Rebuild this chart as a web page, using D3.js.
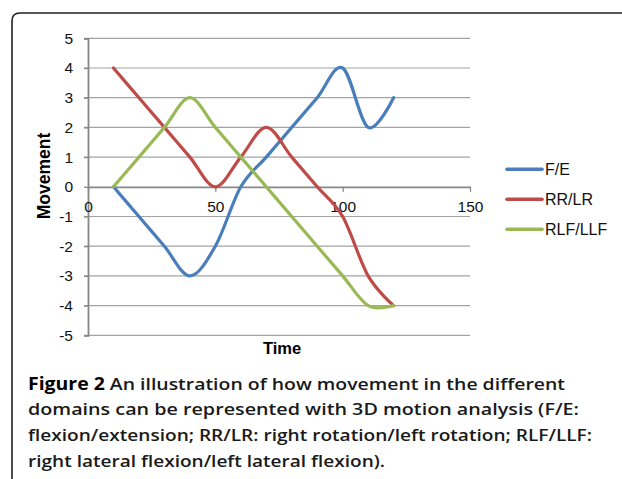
<!DOCTYPE html>
<html>
<head>
<meta charset="utf-8">
<script src="https://cdn.jsdelivr.net/npm/d3@7"></script>
<style>
  body { margin: 0; background: #fff; }
  svg { display: block; }
</style>
</head>
<body>
<svg id="chart" width="622" height="479"></svg>
<script>
// data
const times = [10, 20, 30, 40, 50, 60, 70, 80, 90, 100, 110, 120]
const fe = [0, -1, -2, -3, -2, 0, 1, 2, 3, 4, 2, 3]
const rrlr = [4, 3, 2, 1, 0, 1, 2, 1, 0, -1, -3, -4]
const rlfllf = [0, 1, 2, 3, 2, 1, 0, -1, -2, -3, -4, -4]
const seriesNames = ['F/E', 'RR/LR', 'RLF/LLF']
const seriesColors = ['#4a7ebb', '#be4b48', '#98b954']
const xTicks = [0, 50, 100, 150]
const yTicks = [-5, -4, -3, -2, -1, 0, 1, 2, 3, 4, 5]
const captionLines = [
  ['Figure 2', ' An illustration of how movement in the different'],
  ['', 'domains can be represented with 3D motion analysis (F/E:'],
  ['', 'flexion/extension; RR/LR: right rotation/left rotation; RLF/LLF:'],
  ['', 'right lateral flexion/left lateral flexion).']
]
const captionWidths = [537, 551, 564, 357]

const series = [fe, rrlr, rlfllf].map((vals, i) => ({
  name: seriesNames[i],
  color: seriesColors[i],
  values: vals.map((v, j) => ({ t: times[j], v }))
}))

const svg = d3.select('#chart')
const font = '"Liberation Sans", Arial, sans-serif'

svg.append('rect').attr('width', 622).attr('height', 479).attr('fill', '#fff')

// rounded frame, open on the right and bottom
svg.append('path')
  .attr('d', 'M12,479 V21 Q12,13 20,13 H622')
  .attr('fill', 'none')
  .attr('stroke', '#222')
  .attr('stroke-width', 1.6)

const x = d3.scaleLinear().domain([0, 150]).range([88, 470])
const y = d3.scaleLinear().domain([-5, 5]).range([335.3, 38.3])

// gridlines
svg.append('g').selectAll('line')
  .data(yTicks.filter(d => d !== 0))
  .join('line')
  .attr('x1', 84).attr('x2', x(150))
  .attr('y1', d => y(d)).attr('y2', d => y(d))
  .attr('stroke', '#a3a3a3')
  .attr('stroke-width', 1.2)

// y axis
const yAxis = svg.append('g')
  .attr('transform', `translate(${x(0)},0)`)
  .call(d3.axisLeft(y).tickValues(yTicks).tickFormat(d => String(d)).tickSize(4).tickPadding(11))
yAxis.select('.domain').attr('stroke', '#878787').attr('stroke-width', 1.8)
yAxis.selectAll('.tick line').attr('stroke', '#878787').attr('stroke-width', 1.3)
yAxis.selectAll('.tick text')
  .attr('font-family', font).attr('font-size', 15.5).attr('fill', '#111')

// x axis crossing at zero
const xAxis = svg.append('g')
  .attr('transform', `translate(0,${y(0)})`)
  .call(d3.axisBottom(x).tickValues(xTicks).tickFormat(d => String(d)).tickSize(5).tickPadding(9).tickSizeOuter(0))
xAxis.select('.domain').attr('stroke', '#878787').attr('stroke-width', 1.8)
xAxis.selectAll('.tick line').attr('stroke', '#878787').attr('stroke-width', 1.3)
xAxis.selectAll('.tick text')
  .attr('font-family', font).attr('font-size', 15.5).attr('fill', '#111')

// axis titles
svg.append('text')
  .attr('transform', 'translate(50,176) rotate(-90)')
  .attr('text-anchor', 'middle')
  .attr('font-family', font).attr('font-size', 17.5).attr('font-weight', 'bold')
  .text('Movement')

svg.append('text')
  .attr('x', 282).attr('y', 354)
  .attr('text-anchor', 'middle')
  .attr('font-family', font).attr('font-size', 16.5).attr('font-weight', 'bold')
  .text('Time')

// smoothed lines
const line = d3.line()
  .x(d => x(d.t))
  .y(d => y(d.v))
  .curve(d3.curveCardinal.tension(0))

svg.append('g').selectAll('path')
  .data(series)
  .join('path')
  .attr('d', d => line(d.values))
  .attr('fill', 'none')
  .attr('stroke', d => d.color)
  .attr('stroke-width', 3.2)
  .attr('stroke-linejoin', 'round')
  .attr('stroke-linecap', 'round')

// legend
const legend = svg.append('g').selectAll('g')
  .data(series)
  .join('g')
  .attr('transform', (d, i) => `translate(507,${169.3 + i * 30})`)
legend.append('line')
  .attr('x1', 0).attr('x2', 35)
  .attr('stroke', d => d.color)
  .attr('stroke-width', 3.6)
  .attr('stroke-linecap', 'round')
legend.append('text')
  .attr('x', 38).attr('dy', '0.35em')
  .attr('font-family', font).attr('font-size', 16)
  .attr('fill', '#111')
  .text(d => d.name)

// caption
const caption = svg.append('g').selectAll('text')
  .data(captionLines)
  .join('text')
  .attr('x', 28)
  .attr('y', (d, i) => 389.5 + i * 25.8)
  .attr('font-family', '"Open Sans", "Noto Sans", sans-serif')
  .attr('font-size', 17)
  .attr('font-weight', 600)
  .attr('fill', '#1a1a1a')
  .attr('textLength', (d, i) => captionWidths[i])
  .attr('lengthAdjust', 'spacingAndGlyphs')
caption.append('tspan')
  .attr('font-weight', 700)
  .attr('fill', '#000')
  .text(d => d[0])
caption.append('tspan')
  .text(d => d[1])
</script>
</body>
</html>
